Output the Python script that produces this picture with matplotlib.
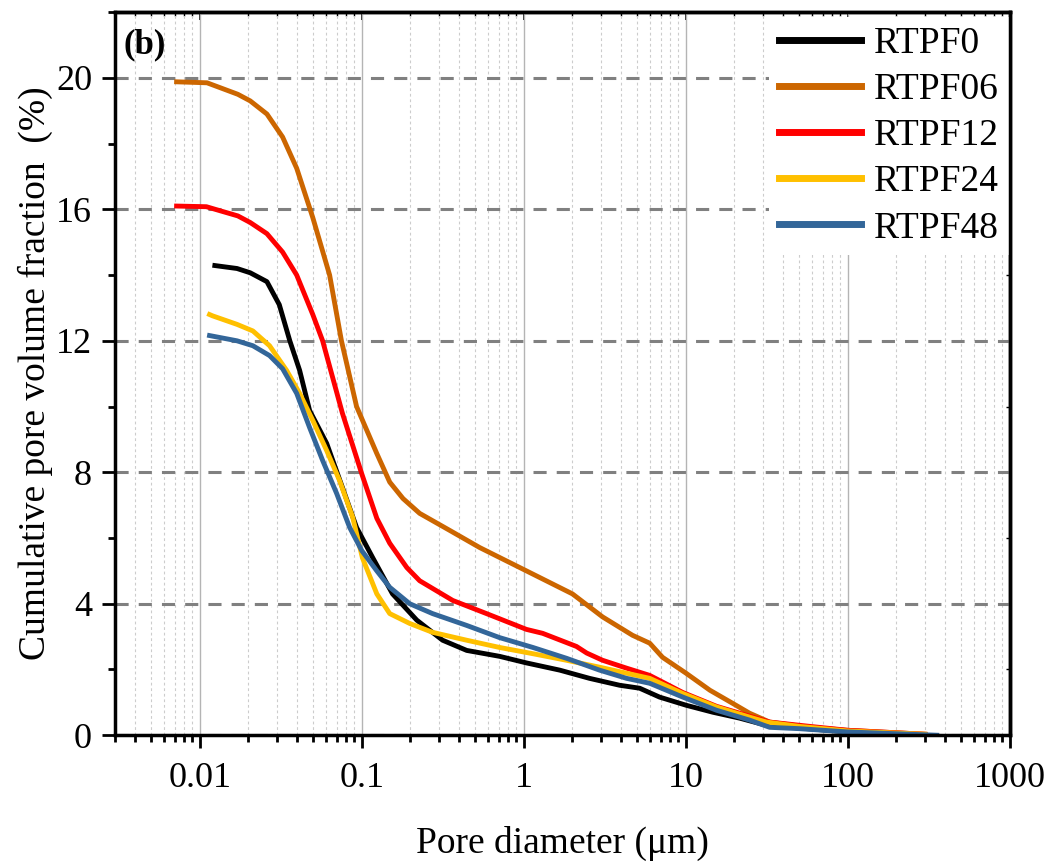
import matplotlib
matplotlib.use("Agg")
import matplotlib.pyplot as plt
from matplotlib.ticker import FixedLocator, LogLocator, FuncFormatter, NullFormatter, MultipleLocator

# pore diameter (um) and cumulative pore volume fraction (%)
x_rtpf0 = [0.0124, 0.017, 0.0205, 0.026, 0.031, 0.036, 0.0414, 0.0477, 0.0608, 0.076,
           0.093, 0.117, 0.155, 0.219, 0.316, 0.445, 0.71, 1.04, 1.67, 2.55,
           3.91, 5.2, 6.9, 10.1, 14.7, 21.5, 31.6, 50, 100, 200]
y_rtpf0 = [14.29, 14.2, 14.07, 13.8, 13.1, 12.0, 11.1, 9.88, 8.88, 7.54,
           6.32, 5.4, 4.3, 3.5, 2.89, 2.58, 2.4, 2.2, 1.98, 1.73,
           1.52, 1.43, 1.16, 0.91, 0.7, 0.52, 0.3, 0.22, 0.1, 0.03]

x_rtpf06 = [0.0072, 0.0111, 0.0172, 0.0205, 0.026, 0.0325, 0.0397, 0.0499, 0.0634, 0.075,
            0.093, 0.124, 0.149, 0.18, 0.228, 0.35, 0.535, 1.04, 2.0, 3.07,
            4.7, 6.0, 7.2, 10.1, 14.1, 19.5, 24.8, 33, 58, 100, 300]
y_rtpf06 = [19.88, 19.85, 19.5, 19.3, 18.9, 18.2, 17.25, 15.75, 14.0, 12.0,
            10.0, 8.57, 7.7, 7.2, 6.75, 6.23, 5.71, 5.0, 4.3, 3.6,
            3.04, 2.8, 2.37, 1.88, 1.37, 0.97, 0.67, 0.4, 0.24, 0.15, 0.03]

x_rtpf12 = [0.0072, 0.011, 0.0133, 0.0172, 0.0205, 0.026, 0.0325, 0.0397, 0.0499, 0.0574,
            0.076, 0.1, 0.124, 0.149, 0.19, 0.228, 0.365, 0.59, 1.04, 1.31,
            2.12, 2.45, 3.07, 4.32, 6.0, 9.6, 15.5, 24.8, 33, 58, 100, 300]
y_rtpf12 = [16.1, 16.08, 15.96, 15.8, 15.6, 15.26, 14.7, 14.0, 12.8, 12.0,
            9.8, 7.96, 6.6, 5.84, 5.1, 4.7, 4.1, 3.7, 3.22, 3.1,
            2.7, 2.5, 2.28, 2.04, 1.82, 1.3, 0.88, 0.58, 0.4, 0.27, 0.15, 0.03]

x_rtpf24 = [0.0115, 0.012, 0.017, 0.0213, 0.027, 0.0344, 0.0414, 0.05, 0.0608, 0.073,
            0.088, 0.101, 0.124, 0.149, 0.198, 0.274, 0.445, 0.71, 1.14, 1.84,
            2.94, 6.0, 9.6, 15.5, 24.8, 31.6, 50, 100, 300]
y_rtpf24 = [12.8, 12.76, 12.5, 12.3, 11.85, 11.1, 10.4, 9.57, 8.66, 7.75,
            6.63, 5.4, 4.3, 3.7, 3.4, 3.13, 2.89, 2.67, 2.48, 2.28,
            2.07, 1.73, 1.27, 0.86, 0.55, 0.4, 0.27, 0.13, 0.03]

x_rtpf48 = [0.0115, 0.017, 0.0213, 0.027, 0.0325, 0.0397, 0.0477, 0.0574, 0.07, 0.0843,
            0.1, 0.124, 0.149, 0.198, 0.274, 0.445, 0.71, 1.14, 1.84, 2.94,
            4.32, 6.0, 9.6, 15.5, 24.8, 33, 50, 100, 355]
y_rtpf48 = [12.16, 12.0, 11.85, 11.55, 11.15, 10.4, 9.36, 8.36, 7.36, 6.32,
            5.62, 5.0, 4.5, 4.0, 3.7, 3.34, 2.97, 2.67, 2.34, 1.98,
            1.73, 1.58, 1.16, 0.76, 0.46, 0.24, 0.2, 0.1, 0.0]

labels = ["RTPF0", "RTPF06", "RTPF12", "RTPF24", "RTPF48"]
colors = ["#000000", "#CC6600", "#FF0000", "#FFC000", "#336699"]
x_ticks = [0.01, 0.1, 1, 10, 100, 1000]
y_ticks = [0, 4, 8, 12, 16, 20]

plt.rcParams["font.family"] = ["Liberation Serif", "DejaVu Serif"]

fig = plt.figure(figsize=(10.55, 8.67), dpi=100)
ax = fig.add_axes([0.109, 0.152, 0.848, 0.834])

series = [(x_rtpf0, y_rtpf0), (x_rtpf06, y_rtpf06), (x_rtpf12, y_rtpf12),
          (x_rtpf24, y_rtpf24), (x_rtpf48, y_rtpf48)]
for (xs, ys), lab, col in zip(series, labels, colors):
    ax.plot(xs, ys, color=col, linewidth=3.5, label=lab, solid_joinstyle="round")

ax.set_xscale("log")
ax.set_xlim(0.003, 1000)
ax.set_ylim(0, 22)

ax.xaxis.set_major_locator(FixedLocator(x_ticks))
ax.xaxis.set_major_formatter(FuncFormatter(lambda v, p: f"{v:g}"))
ax.xaxis.set_minor_locator(LogLocator(base=10, subs=range(2, 10), numticks=20))
ax.xaxis.set_minor_formatter(NullFormatter())
ax.yaxis.set_major_locator(FixedLocator(y_ticks))
ax.yaxis.set_minor_locator(MultipleLocator(2))

ax.grid(True, axis="x", which="major", color="#b4b4b4", linewidth=1.0, linestyle="-")
ax.grid(True, axis="x", which="minor", color="#cccccc", linewidth=0.8, linestyle=(0, (2.5, 2.5)))
ax.grid(True, axis="y", which="major", color="#808080", linewidth=2.2, linestyle=(0, (4.3, 3.3)))
ax.set_axisbelow(True)

for sp in ax.spines.values():
    sp.set_linewidth(2.5)

ax.tick_params(axis="both", which="major", direction="out", length=9.5, width=2,
               labelsize=26, pad=7, top=False, right=False)
ax.tick_params(axis="x", which="major", pad=10)
ax.tick_params(axis="both", which="minor", direction="out", length=5, width=2,
               top=False, right=False)

# inward ticks on the top and right spines
top = ax.secondary_xaxis("top")
top.xaxis.set_major_locator(FixedLocator(x_ticks))
top.xaxis.set_minor_locator(LogLocator(base=10, subs=range(2, 10), numticks=20))
top.tick_params(which="major", direction="in", length=6, width=1.2, labeltop=False)
top.tick_params(which="minor", direction="in", length=3, width=1.0)
top.xaxis.set_major_formatter(NullFormatter())
top.xaxis.set_minor_formatter(NullFormatter())
top.spines["top"].set_linewidth(2.5)

right = ax.secondary_yaxis("right")
right.yaxis.set_major_locator(FixedLocator(y_ticks))
right.yaxis.set_minor_locator(MultipleLocator(2))
right.tick_params(which="major", direction="in", length=6, width=1.2, labelright=False)
right.tick_params(which="minor", direction="in", length=3, width=1.0)
right.yaxis.set_major_formatter(NullFormatter())
right.spines["right"].set_linewidth(2.5)

ax.set_xlabel("Pore diameter (μm)", fontsize=27, labelpad=22)
ax.set_ylabel("Cumulative pore volume fraction  (%)", fontsize=27, labelpad=2)

ax.text(0.010, 0.978, "(b)", transform=ax.transAxes, fontsize=25,
        fontweight="bold", ha="left", va="top")

leg = ax.legend(loc="upper right", bbox_to_anchor=(0.999, 0.993), fontsize=27,
                frameon=True, fancybox=False, edgecolor="none", facecolor="white",
                framealpha=1.0, handlelength=2.2, handletextpad=0.35,
                labelspacing=0.31, borderpad=0.25, borderaxespad=0.0)
leg.set_zorder(2.4)
for line in leg.get_lines():
    line.set_linewidth(5)

fig.savefig("out.png", dpi=100)
